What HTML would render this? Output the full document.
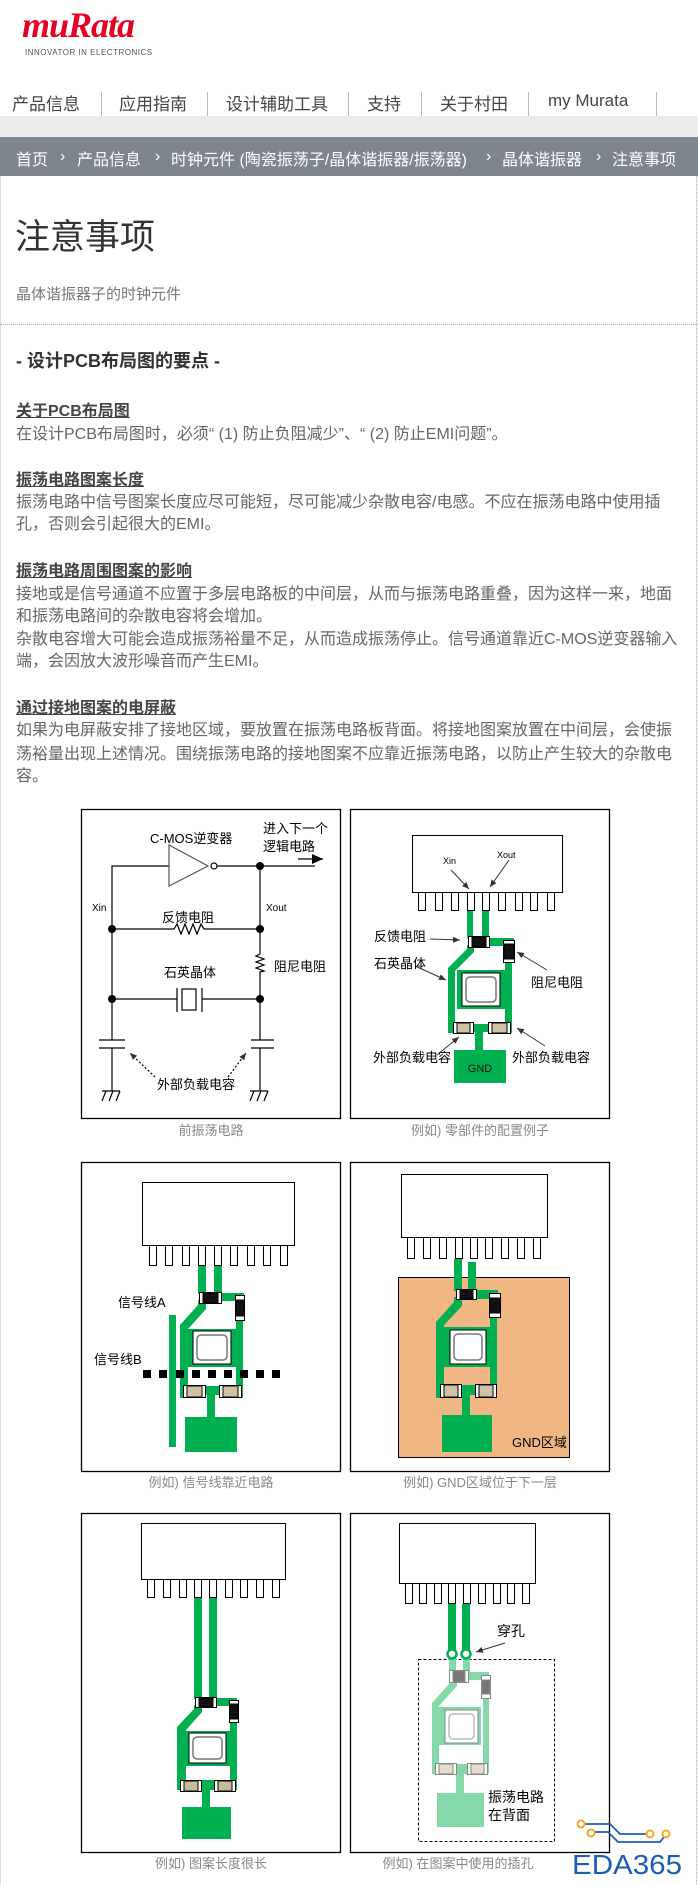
<!DOCTYPE html>
<html><head><meta charset="utf-8">
<style>
*{margin:0;padding:0;box-sizing:border-box}
body{width:698px;height:1885px;overflow:hidden;background:#fff;font-family:"Liberation Sans","Noto Sans CJK SC",sans-serif;position:relative}
.abs{position:absolute;white-space:nowrap}
.nav{position:absolute;left:0;top:78px;width:698px;height:38px;background:#fff;box-shadow:0 2px 3px rgba(0,0,0,.15)}
.nav span{position:absolute;top:12px;font-size:17px;color:#444}
.nav i{position:absolute;top:14px;width:1px;height:24px;background:#bbb}
.gray{position:absolute;left:0;top:116px;width:698px;height:21px;background:#ebebeb}
.bc{position:absolute;left:0;top:137px;width:698px;height:39px;background:#7f858d;color:#fff;font-size:16px}
.bc span{position:absolute;top:9px}
.bc b{position:absolute;top:11px;font-weight:normal}
.t{font-size:16px;color:#666;position:absolute;left:16px;white-space:nowrap}
.h{font-size:16px;color:#444;font-weight:bold;text-decoration:underline;position:absolute;left:16px}
.cap{font-size:13px;fill:#888}
svg text{font-family:"Liberation Sans","Noto Sans CJK SC",sans-serif}
</style></head><body>
<div class="abs" style="left:22px;top:4px;font-family:'Liberation Serif',serif;font-style:italic;font-weight:bold;font-size:36px;color:#e60023;letter-spacing:-1px">muRata</div>
<div class="abs" style="left:25px;top:48px;font-size:8px;color:#555;letter-spacing:.5px">INNOVATOR IN ELECTRONICS</div>
<div class="nav">
<span style="left:12px">产品信息</span><i style="left:101px"></i>
<span style="left:119px">应用指南</span><i style="left:207px"></i>
<span style="left:226px">设计辅助工具</span><i style="left:348px"></i>
<span style="left:367px">支持</span><i style="left:421px"></i>
<span style="left:440px">关于村田</span><i style="left:528px"></i>
<span style="left:548px;top:13px">my Murata</span><i style="left:656px"></i>
</div>
<div class="gray"></div>
<div class="bc">
<span style="left:16px">首页</span><b style="left:60px">›</b>
<span style="left:77px">产品信息</span><b style="left:155px">›</b>
<span style="left:171px">时钟元件 (陶瓷振荡子/晶体谐振器/振荡器)</span><b style="left:486px">›</b>
<span style="left:502px">晶体谐振器</span><b style="left:596px">›</b>
<span style="left:612px">注意事项</span>
</div>
<div style="position:absolute;left:696px;top:176px;width:0;height:1709px;border-left:1px dotted #aaa"></div>
<div style="position:absolute;left:0;top:176px;width:1px;height:1709px;background:#ddd"></div>
<div class="abs" style="left:15px;top:209px;font-size:35px;color:#333">注意事项</div>
<div class="abs" style="left:16px;top:283px;font-size:15px;color:#777">晶体谐振器子的时钟元件</div>
<div style="position:absolute;left:0;top:324px;width:698px;border-top:1px dotted #aaa"></div>
<div class="abs" style="left:16px;top:347px;font-size:18px;font-weight:bold;color:#333">- 设计PCB布局图的要点 -</div>
<div class="h" style="top:397px">关于PCB布局图</div>
<div class="t" style="top:420px">在设计PCB布局图时，必须“ (1) 防止负阻减少”、“ (2) 防止EMI问题”。</div>
<div class="h" style="top:466px">振荡电路图案长度</div>
<div class="t" style="top:488px">振荡电路中信号图案长度应尽可能短，尽可能减少杂散电容/电感。不应在振荡电路中使用插</div>
<div class="t" style="top:510px">孔，否则会引起很大的EMI。</div>
<div class="h" style="top:557px">振荡电路周围图案的影响</div>
<div class="t" style="top:580px">接地或是信号通道不应置于多层电路板的中间层，从而与振荡电路重叠，因为这样一来，地面</div>
<div class="t" style="top:602px">和振荡电路间的杂散电容将会增加。</div>
<div class="t" style="top:625px">杂散电容增大可能会造成振荡裕量不足，从而造成振荡停止。信号通道靠近C-MOS逆变器输入</div>
<div class="t" style="top:647px">端，会因放大波形噪音而产生EMI。</div>
<div class="h" style="top:694px">通过接地图案的电屏蔽</div>
<div class="t" style="top:716px">如果为电屏蔽安排了接地区域，要放置在振荡电路板背面。将接地图案放置在中间层，会使振</div>
<div class="t" style="top:740px">荡裕量出现上述情况。围绕振荡电路的接地图案不应靠近振荡电路，以防止产生较大的杂散电</div>
<div class="t" style="top:762px">容。</div>

<svg style="position:absolute;left:0;top:0" width="698" height="1885" viewBox="0 0 698 1885">
<defs>
<marker id="ar" markerWidth="8" markerHeight="8" refX="7" refY="4" orient="auto" markerUnits="userSpaceOnUse"><path d="M0,1 L7,4 L0,7 z" fill="#333"/></marker>
<marker id="ab" markerWidth="12" markerHeight="10" refX="11" refY="5" orient="auto" markerUnits="userSpaceOnUse"><path d="M0,0 L11,5 L0,10 z" fill="#000"/></marker>
</defs>
<g fill="none" stroke="#000" stroke-width="1.3">
<rect x="81.5" y="809.5" width="259" height="309"/>
<rect x="350.5" y="809.5" width="259" height="309"/>
<rect x="81.5" y="1162.5" width="259" height="309"/>
<rect x="350.5" y="1162.5" width="259" height="309"/>
<rect x="81.5" y="1513.5" width="259" height="339"/>
<rect x="350.5" y="1513.5" width="259" height="339"/>
</g>
<text class="cap" x="211" y="1135" text-anchor="middle">前振荡电路</text>
<text class="cap" x="480" y="1135" text-anchor="middle">例如) 零部件的配置例子</text>
<text class="cap" x="211" y="1487" text-anchor="middle">例如) 信号线靠近电路</text>
<text class="cap" x="480" y="1487" text-anchor="middle">例如) GND区域位于下一层</text>
<text class="cap" x="211" y="1868" text-anchor="middle">例如) 图案长度很长</text>
<text class="cap" x="458" y="1868" text-anchor="middle">例如) 在图案中使用的插孔</text>

<!-- Panel 1 circuit -->
<g stroke="#000" stroke-width="1.2" fill="none">
<path d="M112,1040 V866 H169"/>
<path d="M169,845 V886 L208,866 Z" stroke="#555"/>
<circle cx="214" cy="866" r="3" fill="#fff"/>
<path d="M217,866 H315"/>
<path d="M298,859 H323" marker-end="url(#ab)"/>
<path d="M260,866 V954 M260,975 V1040"/>
<path d="M112,929 H174 l3,-5 l4,10 l4,-10 l4,10 l4,-10 l4,10 l4,-10 l3,5 H260"/>
<path d="M260,954 l-4,2 l8,3 l-8,3 l8,3 l-8,3 l8,3 l-4,1 V975"/>
<path d="M112,999 H177 M202,999 H260"/>
<path d="M177,988 V1012 M202,988 V1012"/>
<rect x="182" y="989" width="14" height="21"/>
<path d="M99,1040 H125 M99,1048 H125 M251,1040 H274 M251,1048 H274"/>
<path d="M112,1048 V1091 M260,1048 V1091"/>
<path d="M102,1091 H120 M102,1101 l4,-10 M109,1101 l4,-10 M116,1101 l4,-10"/>
<path d="M250,1091 H268 M250,1101 l4,-10 M257,1101 l4,-10 M264,1101 l4,-10"/>
<path d="M155,1077 L130,1053" stroke-dasharray="2,2" marker-end="url(#ar)"/>
<path d="M228,1077 L246,1053" stroke-dasharray="2,2" marker-end="url(#ar)"/>
</g>
<g fill="#000"><circle cx="260" cy="866" r="4"/><circle cx="112" cy="929" r="4"/><circle cx="260" cy="929" r="4"/><circle cx="112" cy="999" r="4"/><circle cx="260" cy="999" r="4"/></g>
<g font-size="13" fill="#000">
<text x="150" y="843">C-MOS逆变器</text>
<text x="263" y="833">进入下一个</text>
<text x="263" y="851">逻辑电路</text>
<text x="92" y="911" font-size="10">Xin</text>
<text x="266" y="911" font-size="10">Xout</text>
<text x="162" y="922">反馈电阻</text>
<text x="274" y="971">阻尼电阻</text>
<text x="164" y="977">石英晶体</text>
<text x="157" y="1089">外部负载电容</text>
</g>

<!-- Panel 2 -->
<g stroke="#000" stroke-width="1" fill="#fff">
<rect x="412.5" y="835.5" width="150" height="57"/>
<rect x="418.5" y="892.5" width="7" height="18"/><rect x="435.5" y="892.5" width="7" height="18"/><rect x="451.5" y="892.5" width="7" height="18"/><rect x="467.5" y="892.5" width="7" height="18"/><rect x="482.5" y="892.5" width="7" height="18"/><rect x="498.5" y="892.5" width="7" height="18"/><rect x="515.5" y="892.5" width="7" height="18"/><rect x="530.5" y="892.5" width="7" height="18"/><rect x="547.5" y="892.5" width="7" height="18"/>
</g>
<g fill="#00b050">
<rect x="467" y="911" width="6" height="27"/><rect x="482" y="911" width="7" height="27"/>
<rect x="487" y="938" width="27" height="8"/>
<rect x="505" y="960" width="7" height="73"/>
<path d="M467,945 L474,945 L474,952 L455,971 L455,1033 L448,1033 L448,968 L467,949 Z"/>
<rect x="448" y="1024" width="64" height="8"/>
<rect x="475" y="1030" width="8" height="22"/>
<rect x="454" y="1050" width="52" height="33"/>
<rect x="457" y="970" width="48" height="39"/>
</g>
<rect x="462" y="973" width="38" height="33" fill="#fff" stroke="#000"/>
<rect x="466" y="977" width="30" height="25" rx="4" fill="#fff" stroke="#777" stroke-width="1.5"/>
<g stroke="#000" stroke-width="1">
<rect x="468.5" y="936.5" width="21" height="11" fill="#fff"/><rect x="472" y="937" width="14" height="10" fill="#111"/>
<rect x="503.5" y="940.5" width="11" height="22" fill="#fff"/><rect x="504" y="944" width="10" height="15" fill="#111"/>
<rect x="453.5" y="1022.5" width="20" height="11" fill="#fff"/><rect x="457" y="1023" width="13" height="10" fill="#cfc3a3"/>
<rect x="488.5" y="1022.5" width="22" height="11" fill="#fff"/><rect x="492" y="1023" width="15" height="10" fill="#cfc3a3"/>
</g>
<text x="480" y="1072" text-anchor="middle" font-size="11" fill="#111">GND</text>
<g stroke="#333" stroke-width="1" fill="none">
<path d="M451,870 L469,889" marker-end="url(#ar)"/>
<path d="M509,860 L490,887" marker-end="url(#ar)"/>
<path d="M430,939 L460,940" marker-end="url(#ar)"/>
<path d="M415,966 L446,980" marker-end="url(#ar)"/>
<path d="M547,970 L517,952" marker-end="url(#ar)"/>
<path d="M437,1055 L459,1037" marker-end="url(#ar)"/>
<path d="M545,1046 L517,1028" marker-end="url(#ar)"/>
</g>
<g font-size="13" fill="#000">
<text x="443" y="864" font-size="9">Xin</text><text x="497" y="858" font-size="9">Xout</text>
<text x="374" y="941">反馈电阻</text>
<text x="374" y="968">石英晶体</text>
<text x="531" y="987">阻尼电阻</text>
<text x="373" y="1062">外部负载电容</text>
<text x="512" y="1062">外部负载电容</text>
</g>

<!-- Panel 3 -->
<g stroke="#000" stroke-width="1" fill="#fff">
<rect x="142.5" y="1182.5" width="152" height="63"/>
<rect x="149.5" y="1245.5" width="7" height="20"/><rect x="165.5" y="1245.5" width="7" height="20"/><rect x="182.5" y="1245.5" width="7" height="20"/><rect x="198.5" y="1245.5" width="7" height="20"/><rect x="214.5" y="1245.5" width="7" height="20"/><rect x="230.5" y="1245.5" width="7" height="20"/><rect x="247.5" y="1245.5" width="7" height="20"/><rect x="263.5" y="1245.5" width="7" height="20"/><rect x="280.5" y="1245.5" width="7" height="20"/>
</g>
<g fill="#00b050">
<rect x="198" y="1266" width="8" height="28"/><rect x="214" y="1266" width="8" height="28"/>
<rect x="220" y="1293" width="24" height="8"/>
<rect x="236" y="1318" width="7" height="80"/>
<path d="M198,1300 L206,1300 L206,1309 L188,1329 L188,1398 L180,1398 L180,1325 L198,1305 Z"/>
<rect x="180" y="1386" width="63" height="9"/>
<rect x="207" y="1393" width="8" height="26"/>
<rect x="185" y="1417" width="52" height="35"/>
<rect x="188" y="1329" width="48" height="38"/>
<rect x="169" y="1315" width="7" height="132"/>
</g>
<rect x="193" y="1331" width="38" height="33" fill="#fff" stroke="#000"/>
<rect x="197" y="1335" width="30" height="25" rx="4" fill="#fff" stroke="#777" stroke-width="1.5"/>
<g stroke="#000" stroke-width="1">
<rect x="199.5" y="1292.5" width="22" height="11" fill="#fff"/><rect x="203" y="1293" width="15" height="10" fill="#111"/>
<rect x="235.5" y="1295.5" width="9" height="25" fill="#fff"/><rect x="236" y="1300" width="8" height="16" fill="#111"/>
<rect x="183.5" y="1385.5" width="22" height="12" fill="#fff"/><rect x="187" y="1386" width="15" height="11" fill="#cfc3a3"/>
<rect x="219.5" y="1385.5" width="22" height="12" fill="#fff"/><rect x="223" y="1386" width="15" height="11" fill="#cfc3a3"/>
</g>
<g fill="#000">
<rect x="143" y="1370" width="8" height="8"/><rect x="159" y="1370" width="8" height="8"/><rect x="176" y="1370" width="8" height="8"/><rect x="192" y="1370" width="8" height="8"/><rect x="208" y="1370" width="8" height="8"/><rect x="224" y="1370" width="8" height="8"/><rect x="240" y="1370" width="8" height="8"/><rect x="256" y="1370" width="8" height="8"/><rect x="272" y="1370" width="8" height="8"/>
</g>
<g font-size="13" fill="#000"><text x="118" y="1307">信号线A</text><text x="94" y="1364">信号线B</text></g>

<!-- Panel 4 -->
<g stroke="#000" stroke-width="1" fill="#fff">
<rect x="401.5" y="1174.5" width="146" height="63"/>
<rect x="407.5" y="1237.5" width="7" height="21"/><rect x="423.5" y="1237.5" width="7" height="21"/><rect x="439.5" y="1237.5" width="7" height="21"/><rect x="455.5" y="1237.5" width="7" height="21"/><rect x="470.5" y="1237.5" width="7" height="21"/><rect x="485.5" y="1237.5" width="7" height="21"/><rect x="501.5" y="1237.5" width="7" height="21"/><rect x="517.5" y="1237.5" width="7" height="21"/><rect x="533.5" y="1237.5" width="7" height="21"/>
</g>
<rect x="398.5" y="1277.5" width="171" height="180" fill="#f0b684" stroke="#000"/>
<g fill="#00b050">
<rect x="454" y="1259" width="8" height="32"/><rect x="468" y="1262" width="8" height="29"/>
<rect x="474" y="1290" width="24" height="9"/>
<rect x="490" y="1314" width="7" height="84"/>
<path d="M454,1297 L462,1297 L462,1306 L444,1325 L444,1398 L436,1398 L436,1322 L454,1302 Z"/>
<rect x="436" y="1385" width="61" height="10"/>
<rect x="462" y="1393" width="8" height="24"/>
<rect x="442" y="1415" width="50" height="37"/>
<rect x="444" y="1327" width="46" height="40"/>
</g>
<rect x="450" y="1330" width="36" height="34" fill="#fff" stroke="#000"/>
<rect x="454" y="1334" width="28" height="26" rx="4" fill="#fff" stroke="#777" stroke-width="1.5"/>
<g stroke="#000" stroke-width="1">
<rect x="456.5" y="1289.5" width="20" height="10" fill="#fff"/><rect x="460" y="1290" width="13" height="9" fill="#111"/>
<rect x="489.5" y="1293.5" width="11" height="24" fill="#fff"/><rect x="490" y="1298" width="10" height="15" fill="#111"/>
<rect x="440.5" y="1384.5" width="21" height="13" fill="#fff"/><rect x="444" y="1385" width="14" height="12" fill="#cfc3a3"/>
<rect x="475.5" y="1384.5" width="21" height="13" fill="#fff"/><rect x="479" y="1385" width="14" height="12" fill="#cfc3a3"/>
</g>
<text x="512" y="1447" font-size="13" fill="#000">GND区域</text>

<!-- Panel 5 -->
<g stroke="#000" stroke-width="1" fill="#fff">
<rect x="141.5" y="1523.5" width="144" height="56"/>
<rect x="147.5" y="1579.5" width="7" height="18"/><rect x="163.5" y="1579.5" width="7" height="18"/><rect x="179.5" y="1579.5" width="7" height="18"/><rect x="194.5" y="1579.5" width="7" height="18"/><rect x="209.5" y="1579.5" width="7" height="18"/><rect x="225.5" y="1579.5" width="7" height="18"/><rect x="240.5" y="1579.5" width="7" height="18"/><rect x="256.5" y="1579.5" width="7" height="18"/><rect x="272.5" y="1579.5" width="7" height="18"/>
</g>
<g fill="#00b050">
<rect x="194" y="1598" width="8" height="101"/><rect x="209" y="1598" width="8" height="101"/>
<rect x="215" y="1698" width="22" height="8"/>
<rect x="230" y="1720" width="7" height="70"/>
<path d="M194,1705 L202,1705 L202,1712 L186,1730 L186,1790 L177,1790 L177,1727 L194,1709 Z"/>
<rect x="177" y="1780" width="60" height="10"/>
<rect x="202" y="1788" width="8" height="20"/>
<rect x="182" y="1807" width="49" height="32"/>
<rect x="186" y="1731" width="44" height="35"/>
</g>
<rect x="189" y="1733" width="37" height="30" fill="#fff" stroke="#000"/>
<rect x="193" y="1737" width="29" height="22" rx="4" fill="#fff" stroke="#777" stroke-width="1.5"/>
<g stroke="#000" stroke-width="1">
<rect x="195.5" y="1697.5" width="21" height="10" fill="#fff"/><rect x="199" y="1698" width="14" height="9" fill="#111"/>
<rect x="229.5" y="1700.5" width="9" height="22" fill="#fff"/><rect x="230" y="1704" width="8" height="15" fill="#111"/>
<rect x="180.5" y="1780.5" width="21" height="11" fill="#fff"/><rect x="184" y="1781" width="14" height="10" fill="#c8bb98"/>
<rect x="214.5" y="1780.5" width="21" height="11" fill="#fff"/><rect x="218" y="1781" width="14" height="10" fill="#c8bb98"/>
</g>

<!-- Panel 6 -->
<g stroke="#000" stroke-width="1" fill="#fff">
<rect x="399.5" y="1523.5" width="136" height="60"/>
<rect x="405.5" y="1583.5" width="7" height="20"/><rect x="419.5" y="1583.5" width="7" height="20"/><rect x="434.5" y="1583.5" width="7" height="20"/><rect x="448.5" y="1583.5" width="7" height="20"/><rect x="463.5" y="1583.5" width="7" height="20"/><rect x="478.5" y="1583.5" width="7" height="20"/><rect x="493.5" y="1583.5" width="7" height="20"/><rect x="507.5" y="1583.5" width="7" height="20"/><rect x="522.5" y="1583.5" width="7" height="20"/>
</g>
<rect x="418.5" y="1659.5" width="136" height="182" fill="none" stroke="#000" stroke-dasharray="3,2"/>
<g fill="#84d8a9">
<rect x="449" y="1656" width="7" height="16"/><rect x="463" y="1656" width="7" height="16"/>
<rect x="466" y="1672" width="23" height="8"/>
<rect x="483" y="1696" width="6" height="78"/>
<path d="M450,1680 L457,1680 L457,1686 L439,1706 L439,1774 L432,1774 L432,1703 L450,1683 Z"/>
<rect x="432" y="1764" width="57" height="10"/>
<rect x="456" y="1772" width="8" height="22"/>
<rect x="437" y="1793" width="47" height="34"/>
<rect x="439" y="1707" width="42" height="38"/>
</g>
<g fill="#00b050"><rect x="448" y="1604" width="8" height="46"/><rect x="462" y="1604" width="8" height="46"/></g>
<circle cx="452" cy="1654" r="4.5" fill="#fff" stroke="#00b050" stroke-width="2.5"/>
<circle cx="466" cy="1654" r="4.5" fill="#fff" stroke="#00b050" stroke-width="2.5"/>
<rect x="445" y="1710" width="33" height="33" fill="#fff" stroke="#888"/>
<rect x="449" y="1714" width="25" height="25" rx="4" fill="#fff" stroke="#bbb" stroke-width="1.5"/>
<g stroke="#888" stroke-width="1">
<rect x="449.5" y="1670.5" width="19" height="12" fill="#fff"/><rect x="453" y="1671" width="12" height="11" fill="#777"/>
<rect x="481.5" y="1675.5" width="9" height="23" fill="#fff"/><rect x="482" y="1680" width="8" height="14" fill="#777"/>
<rect x="435.5" y="1763.5" width="21" height="11" fill="#fff"/><rect x="439" y="1764" width="14" height="10" fill="#e4ddcc"/>
<rect x="467.5" y="1763.5" width="20" height="11" fill="#fff"/><rect x="471" y="1764" width="13" height="10" fill="#e4ddcc"/>
</g>
<path d="M505,1643 L476,1652" stroke="#333" stroke-width="1" fill="none" marker-end="url(#ar)"/>
<g font-size="14" fill="#000"><text x="497" y="1636">穿孔</text><text x="488" y="1802">振荡电路</text><text x="488" y="1820">在背面</text></g>

<!-- EDA365 logo -->
<g fill="none" stroke="#1a5fb4" stroke-width="1.8">
<path d="M585,1824 H610 L620,1834 H646"/>
<path d="M595,1832 H608 L618,1842 H660 L664,1837"/>
</g>
<g fill="#fff" stroke="#f5a623" stroke-width="2">
<circle cx="581" cy="1824" r="3.5"/><circle cx="591" cy="1833" r="3.5"/><circle cx="650" cy="1834" r="3.5"/><circle cx="666" cy="1834" r="3.5"/>
</g>
<text x="572" y="1874" font-size="28" fill="#1a5fb4" font-family="Liberation Sans, sans-serif" textLength="110" lengthAdjust="spacingAndGlyphs">EDA365</text>
</svg>
</body></html>
